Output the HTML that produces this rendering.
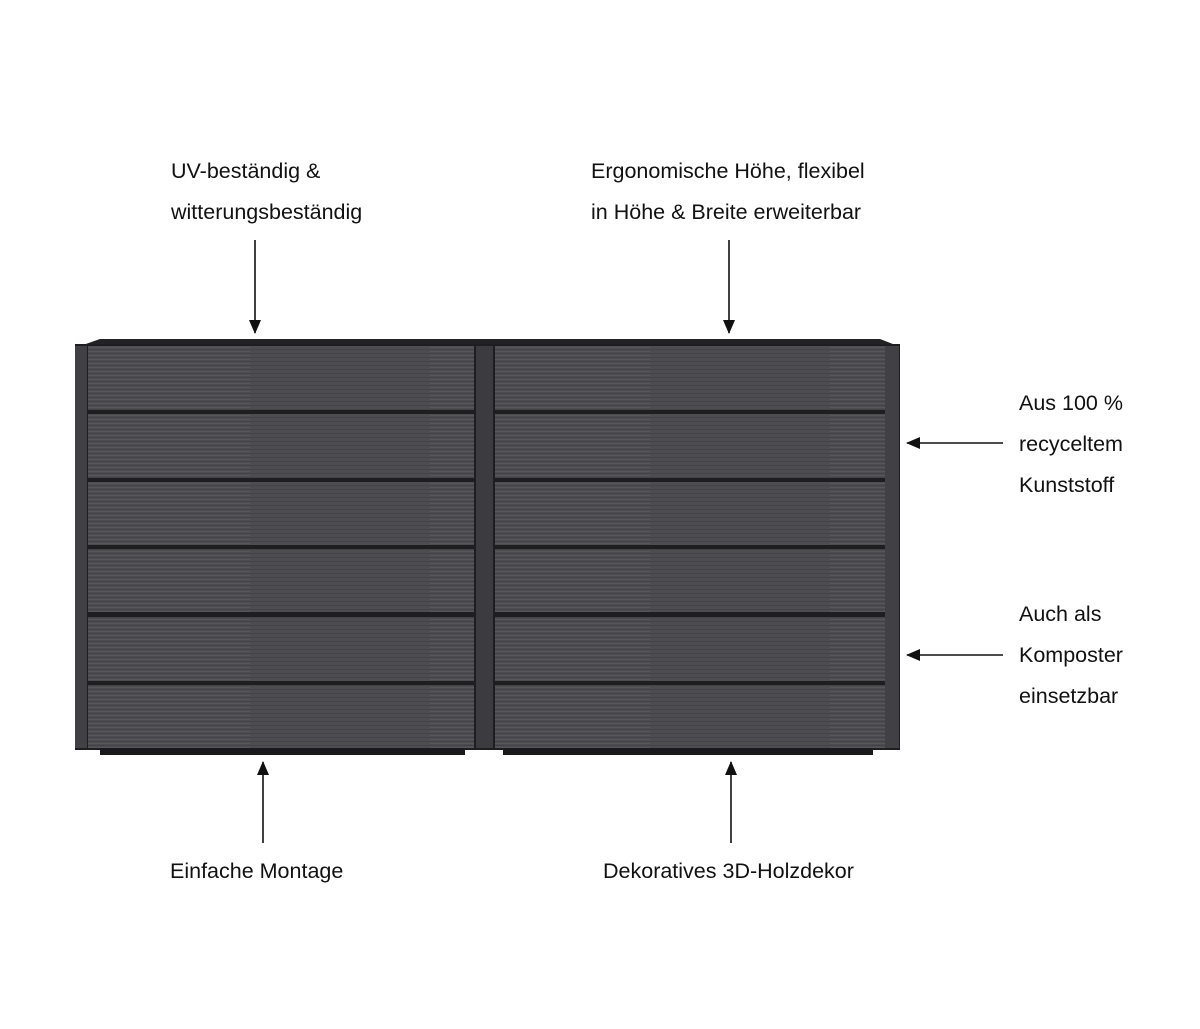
<!DOCTYPE html>
<html><head><meta charset="utf-8"><style>
html,body{margin:0;padding:0;background:#fff;}
svg{display:block;}
text{font-family:"Liberation Sans",sans-serif;font-size:21.5px;fill:#111;}
</style></head><body>
<svg width="1200" height="1029" viewBox="0 0 1200 1029" xmlns="http://www.w3.org/2000/svg">
<defs>
<pattern id="grain" width="400" height="4" patternUnits="userSpaceOnUse">
<rect width="400" height="4" fill="#4c4c51"/>
<rect y="1" width="400" height="1" fill="#434348"/>
<rect x="30" y="3" width="220" height="1" fill="#56565b"/>
</pattern>
<marker id="ah" markerWidth="14" markerHeight="14" refX="13" refY="6" orient="auto" markerUnits="userSpaceOnUse" viewBox="0 0 14 12">
<path d="M0,0 L14,6 L0,12 z" fill="#111"/>
</marker>
</defs>
<text x="171" y="178">UV-beständig &amp;</text>
<text x="171" y="219">witterungsbeständig</text>
<text x="591" y="178">Ergonomische Höhe, flexibel</text>
<text x="591" y="219">in Höhe &amp; Breite erweiterbar</text>
<text x="1019" y="410">Aus 100 %</text>
<text x="1019" y="451">recyceltem</text>
<text x="1019" y="492">Kunststoff</text>
<text x="1019" y="621">Auch als</text>
<text x="1019" y="662">Komposter</text>
<text x="1019" y="703">einsetzbar</text>
<text x="170" y="878">Einfache Montage</text>
<text x="603" y="878">Dekoratives 3D-Holzdekor</text>
<g stroke="#111" stroke-width="1.6" fill="none">
<line x1="255" y1="240" x2="255" y2="333" marker-end="url(#ah)"/>
<line x1="729" y1="240" x2="729" y2="333" marker-end="url(#ah)"/>
<line x1="1003" y1="443" x2="907" y2="443" marker-end="url(#ah)"/>
<line x1="1003" y1="655" x2="907" y2="655" marker-end="url(#ah)"/>
<line x1="263" y1="843" x2="263" y2="762" marker-end="url(#ah)"/>
<line x1="731" y1="843" x2="731" y2="762" marker-end="url(#ah)"/>
</g>
<path d="M100,339 L880,339 L898,346 L80,346 Z" fill="#222"/>
<rect x="75" y="344" width="825" height="406" fill="#1e1e20"/>
<rect x="100" y="748" width="365" height="7" fill="#1a1a1a"/>
<rect x="503" y="748" width="370" height="7" fill="#1a1a1a"/>
<rect x="75" y="346" width="12" height="402" fill="#404045"/>
<rect x="476" y="346" width="17" height="402" fill="#3c3c40"/>
<rect x="885" y="346" width="14" height="402" fill="#404045"/>
<g fill="url(#grain)">
<rect x="88" y="346" width="386" height="64"/>
<rect x="88" y="414" width="386" height="64"/>
<rect x="88" y="482" width="386" height="63"/>
<rect x="88" y="549" width="386" height="63"/>
<rect x="88" y="617" width="386" height="64"/>
<rect x="88" y="685" width="386" height="63"/>
<rect x="495" y="346" width="390" height="64"/>
<rect x="495" y="414" width="390" height="64"/>
<rect x="495" y="482" width="390" height="63"/>
<rect x="495" y="549" width="390" height="63"/>
<rect x="495" y="617" width="390" height="64"/>
<rect x="495" y="685" width="390" height="63"/>
</g>
</svg>
</body></html>
